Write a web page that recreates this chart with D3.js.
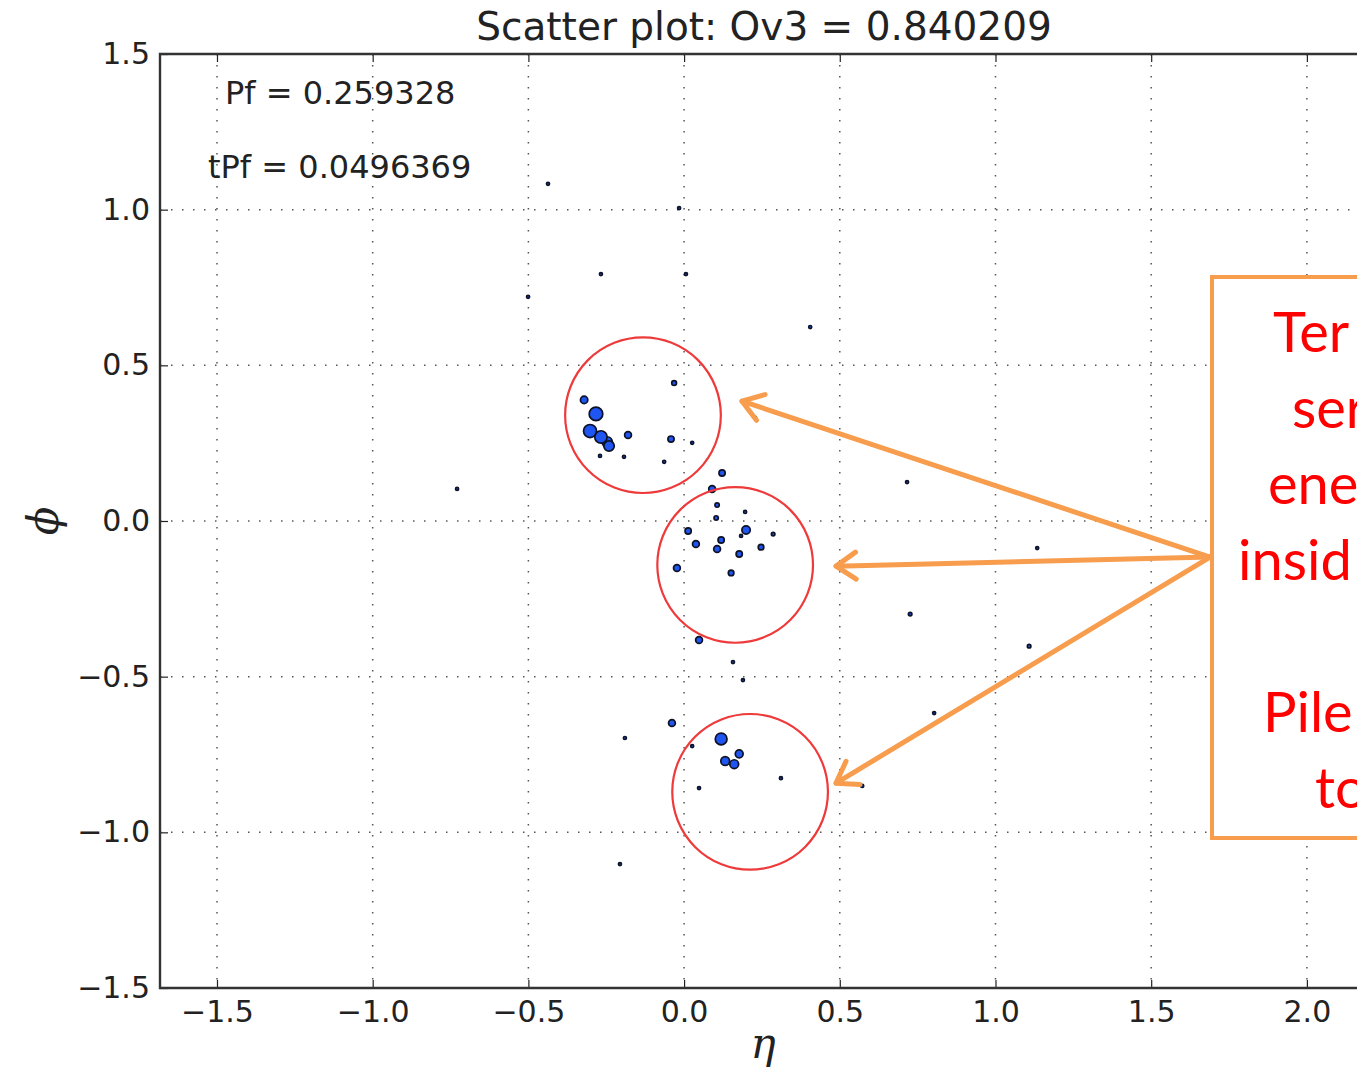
<!DOCTYPE html>
<html>
<head>
<meta charset="utf-8">
<script src="https://cdn.jsdelivr.net/npm/d3@7"></script>
<style>
  body { margin: 0; background: #fff; }
  svg { display: block; }
  .tick text { font-family: "DejaVu Sans", sans-serif; font-size: 30px; fill: #222; }
  .tick line { stroke: #222; stroke-width: 1.2; }
  .grid-line { stroke: #555; stroke-width: 1.5; stroke-dasharray: 1.5 9.5; }
</style>
</head>
<body>
<div id="chart"></div>
<script>
// particle positions (eta, phi) and energy weight
const eta = [-0.032, -0.321, -0.283, -0.302, -0.267, -0.247, -0.241, -0.180, -0.270, -0.193,
  -0.042, 0.026, -0.064, 0.122, 0.090, 0.106, 0.103, 0.196, 0.013, 0.199,
  0.183, 0.286, 0.038, 0.119, 0.106, 0.177, 0.247, -0.023, 0.151, 0.048,
  -0.190, -0.039, 0.026, 0.119, 0.177, 0.132, 0.161, 0.048, 0.311, -0.206,
  -0.437, -0.016, -0.267, 0.006, -0.501, 0.405, 0.716, 1.134, 0.726, 1.108,
  -0.729, 0.157, 0.189, 0.803, 0.572, 0.228];
const phi = [0.443, 0.389, 0.344, 0.289, 0.270, 0.254, 0.241, 0.276, 0.209, 0.206,
  0.263, 0.251, 0.190, 0.154, 0.103, 0.051, 0.010, 0.029, -0.032, -0.029,
  -0.048, -0.042, -0.074, -0.061, -0.090, -0.106, -0.084, -0.151, -0.167, -0.382,
  -0.697, -0.649, -0.723, -0.700, -0.748, -0.771, -0.781, -0.858, -0.826, -1.102,
  1.083, 1.005, 0.793, 0.793, 0.720, 0.623, 0.125, -0.087, -0.299, -0.402,
  0.103, -0.453, -0.511, -0.617, -0.851, 0.331];
const weight = [1.5, 3.5, 12, 11, 10, 7, 7, 3, 0.6, 0.6,
  2.5, 0.6, 0.6, 2.5, 3, 1.2, 1.2, 0.6, 2.5, 4.5,
  0.6, 0.8, 3, 2.5, 3, 2.5, 2, 3, 2, 3,
  0.6, 3, 0.6, 9, 4, 5, 5, 0.6, 0.6, 0.6,
  0.6, 0.6, 0.6, 0.6, 0.6, 0.6, 0.6, 0.6, 0.8, 0.8,
  0.6, 0.6, 0.6, 0.6, 0.6, 0.6];

const xTicks = [-1.5, -1.0, -0.5, 0.0, 0.5, 1.0, 1.5, 2.0];
const yTicks = [-1.5, -1.0, -0.5, 0.0, 0.5, 1.0, 1.5];

// annotation circles (eta, phi centre) of radius 0.25
const circleEta = [-0.132, 0.164, 0.212];
const circlePhi = [0.340, -0.141, -0.870];
const circleR = 0.25;

// arrows from the note box to the circles
const arrowFrom = { eta: 1.689, phi: -0.116 };
const arrowToEta = [0.186, 0.488, 0.488];
const arrowToPhi = [0.385, -0.145, -0.842];

const noteLines = ["Ter", "ser", "ene", "insid", "", "Pile", "to"];
const noteX = [1273, 1292, 1268, 1238, 0, 1263, 1315];

const width = 1357;
const height = 1071;
const plot = { left: 160, top: 54, bottom: 988 };

const xScale = d3.scaleLinear().domain([-1.683, 2.5]).range([plot.left, plot.left + 4.183 * 311.4]);
const yScale = d3.scaleLinear().domain([-1.5, 1.5]).range([plot.bottom, plot.top]);
const rScale = d3.scaleSqrt().domain([0, 12]).range([0, 6.8]);

const svg = d3.select("#chart").append("svg")
  .attr("width", width)
  .attr("height", height);

const right = xScale.range()[1];

// grid
svg.append("g").selectAll("line")
  .data(xTicks)
  .join("line")
  .attr("class", "grid-line")
  .attr("x1", d => xScale(d)).attr("x2", d => xScale(d))
  .attr("y1", plot.top).attr("y2", plot.bottom);

svg.append("g").selectAll("line")
  .data(yTicks.slice(1, -1))
  .join("line")
  .attr("class", "grid-line")
  .attr("x1", plot.left).attr("x2", right)
  .attr("y1", d => yScale(d)).attr("y2", d => yScale(d));

// axes, ticks inside
const fmt = d3.format(".1f");
svg.append("g")
  .attr("transform", `translate(0,${plot.bottom})`)
  .call(d3.axisBottom(xScale).tickValues(xTicks).tickFormat(fmt).tickSizeInner(-8).tickSizeOuter(0).tickPadding(13));
svg.append("g")
  .attr("transform", `translate(0,${plot.top})`)
  .call(d3.axisTop(xScale).tickValues(xTicks).tickFormat("").tickSizeInner(-8).tickSizeOuter(0));
svg.append("g")
  .attr("transform", `translate(${plot.left},0)`)
  .call(d3.axisLeft(yScale).tickValues(yTicks).tickFormat(fmt).tickSizeInner(-8).tickSizeOuter(0).tickPadding(10));
svg.selectAll(".domain").remove();

// points
const points = eta.map((e, i) => ({ eta: e, phi: phi[i], w: weight[i] }))
  .sort((a, b) => a.w - b.w);
svg.append("g").selectAll("circle")
  .data(points)
  .join("circle")
  .attr("cx", d => xScale(d.eta))
  .attr("cy", d => yScale(d.phi))
  .attr("r", d => rScale(d.w))
  .attr("fill", "#1f55f0")
  .attr("stroke", "#0d1226")
  .attr("stroke-width", 1.7);

// frame
svg.append("path")
  .attr("d", `M${right},${plot.top}H${plot.left}V${plot.bottom}H${right}`)
  .attr("fill", "none")
  .attr("stroke", "#333")
  .attr("stroke-width", 2.4);

// title and stats
svg.append("text")
  .attr("x", 764).attr("y", 40)
  .attr("text-anchor", "middle")
  .attr("font-family", "DejaVu Sans").attr("font-size", 39).attr("fill", "#222")
  .text("Scatter plot: Ov3 = 0.840209");

svg.append("text")
  .attr("x", 225).attr("y", 104)
  .attr("font-family", "DejaVu Sans").attr("font-size", 32).attr("fill", "#222")
  .text("Pf = 0.259328");
svg.append("text")
  .attr("x", 208).attr("y", 178)
  .attr("font-family", "DejaVu Sans").attr("font-size", 32).attr("fill", "#222")
  .text("tPf = 0.0496369");

// axis labels
svg.append("text")
  .attr("x", 763).attr("y", 1058)
  .attr("text-anchor", "middle")
  .attr("font-family", "DejaVu Serif").attr("font-style", "italic").attr("font-size", 42).attr("fill", "#222")
  .text("η");
svg.append("text")
  .attr("transform", `translate(58,${yScale(0)}) rotate(-90)`)
  .attr("text-anchor", "middle")
  .attr("font-family", "DejaVu Serif").attr("font-style", "italic").attr("font-size", 42).attr("fill", "#222")
  .text("ϕ");

// red circles
svg.append("g").selectAll("circle")
  .data(circleEta)
  .join("circle")
  .attr("cx", d => xScale(d))
  .attr("cy", (d, i) => yScale(circlePhi[i]))
  .attr("r", xScale(circleR) - xScale(0))
  .attr("fill", "none")
  .attr("stroke", "#ee3a3a")
  .attr("stroke-width", 2.2);

// arrows
const orange = "#f79d4d";
const x0 = xScale(arrowFrom.eta), y0 = yScale(arrowFrom.phi);
arrowToEta.forEach((e, i) => {
  const x1 = xScale(e), y1 = yScale(arrowToPhi[i]);
  const a = Math.atan2(y0 - y1, x0 - x1);
  const len = 24, spread = 0.6;
  const g = svg.append("g")
    .attr("stroke", orange).attr("stroke-width", 5).attr("fill", "none")
    .attr("stroke-linecap", "round").attr("stroke-linejoin", "round");
  g.append("line").attr("x1", x0).attr("y1", y0).attr("x2", x1).attr("y2", y1);
  g.append("path").attr("d",
    `M${x1 + len * Math.cos(a + spread)},${y1 + len * Math.sin(a + spread)}` +
    `L${x1},${y1}` +
    `L${x1 + len * Math.cos(a - spread)},${y1 + len * Math.sin(a - spread)}`);
});

// note box (cut by the right edge, as in the original)
svg.append("rect")
  .attr("x", 1212).attr("y", 277)
  .attr("width", 300).attr("height", 561)
  .attr("fill", "#fff")
  .attr("stroke", orange)
  .attr("stroke-width", 4);

svg.append("g").selectAll("text")
  .data(noteLines)
  .join("text")
  .attr("x", (d, i) => noteX[i])
  .attr("y", (d, i) => 352 + i * 76)
  .attr("font-family", "Lato, 'Open Sans', sans-serif")
  .attr("font-size", 56)
  .attr("fill", "#ff0000")
  .text(d => d);
</script>
</body>
</html>
